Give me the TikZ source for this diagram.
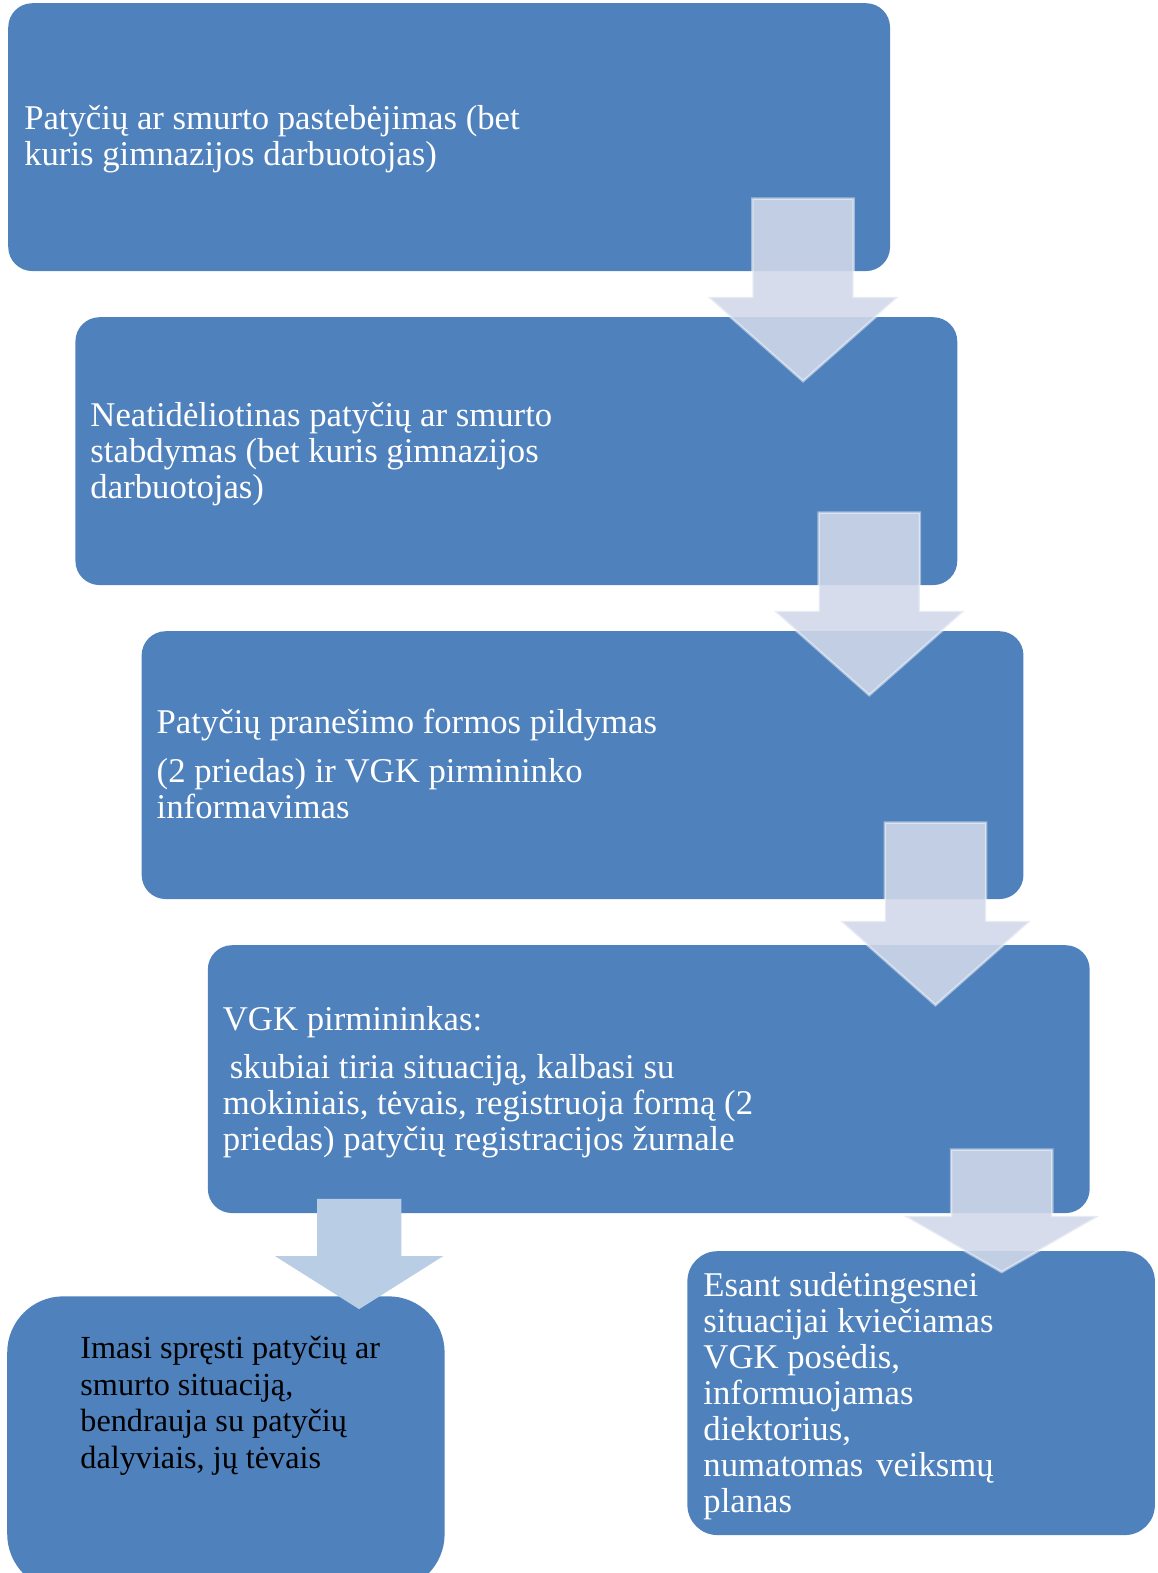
\documentclass[tikz,border=0pt]{standalone}
\usepackage{fontspec}
\setmainfont{Liberation Serif}
\usepackage{tikz}
\definecolor{boxblue}{RGB}{79,129,189}
\definecolor{arrowfill}{RGB}{209,216,232}
\definecolor{arrowsolid}{RGB}{185,205,229}

\tikzset{
  stepbox/.style={fill=boxblue, rounded corners=24pt, anchor=north west, inner sep=0pt,
    minimum width=879pt, minimum height=267pt},
  steptext/.style={anchor=base west, align=left, inner sep=0pt, text=white,
    font=\fontsize{34.6}{36}\selectfont},
  blockarrow/.style={fill=arrowfill, fill opacity=0.89, draw=white, draw opacity=0.45,
    line width=2.5pt, line join=miter},
}

% centre x, top, neck, tip, half shaft, half head
\newcommand{\downblock}[7][blockarrow]{%
  \filldraw[#1] ({#2-#6},#3) -- ({#2+#6},#3) -- ({#2+#6},#4) -- ({#2+#7},#4)
    -- (#2,#5) -- ({#2-#7},#4) -- ({#2-#6},#4) -- cycle;}

\begin{document}
\begin{tikzpicture}[x=1pt, y=-1pt]
    \useasboundingbox (0,0) rectangle (1154,1568);

    % Langeliai
    \node[stepbox] (pastebejimas) at (8,3) {};
    \node[stepbox] (stabdymas) at (75,316) {};
    \node[stepbox] (forma) at (141,629) {};
    \node[stepbox] (pirmininkas) at (207,942) {};
    \node[stepbox, rounded corners=56pt, minimum width=436pt, minimum height=293pt] (sprendimas) at (7,1292) {};
    \node[stepbox, rounded corners=30pt, minimum width=466pt, minimum height=283pt] (posedis) at (685,1247) {};

    % Tekstai (base = paskutinė eilutė)
    \node[steptext] (t1) at (24,165) {Patyčių ar smurto pastebėjimas (bet\\kuris gimnazijos darbuotojas)};
    \node[steptext] (t2) at (90,497) {Neatidėliotinas patyčių ar smurto\\stabdymas (bet kuris gimnazijos\\darbuotojas)};
    \node[steptext] (t3) at (156,816) {Patyčių pranešimo formos pildymas\\[13pt](2 priedas) ir VGK pirmininko\\informavimas};
    \node[steptext] (t4) at (222,1147) {VGK pirmininkas:\\[12pt]\hspace{7pt}skubiai tiria situaciją, kalbasi su\\mokiniais, tėvais, registruoja formą (2\\priedas) patyčių registracijos žurnale};
    \node[steptext, text=black, font=\fontsize{32.1}{36.7}\selectfont] (t5) at (80,1464) {Imasi spręsti patyčių ar\\smurto situaciją,\\bendrauja su patyčių\\dalyviais, jų tėvais};
    \node[steptext] (t6) at (701,1508) {Esant sudėtingesnei\\situacijai kviečiamas\\VGK posėdis,\\informuojamas\\diektorius,\\numatomas\hspace{4pt} veiksmų\\planas};

    % Rodyklės
    \downblock{800.5}{198}{296}{380}{50.5}{95}
    \downblock{866.5}{511}{609}{693}{50.5}{95}
    \downblock{932.5}{820}{918}{1002}{50.5}{95}
    \downblock{998.5}{1146}{1212}{1268}{50.5}{97.5}
    \downblock[fill=arrowsolid, draw=none]{358}{1195}{1252}{1305}{42}{84}

\end{tikzpicture}
\end{document}
